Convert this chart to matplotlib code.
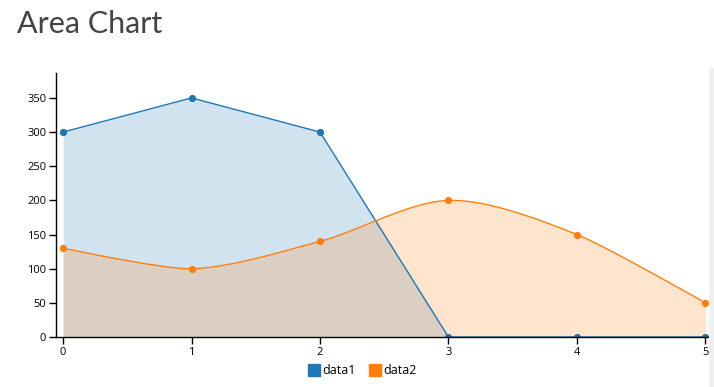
import numpy as np
import matplotlib
matplotlib.use("Agg")
import matplotlib.pyplot as plt
from matplotlib.patches import Rectangle
from matplotlib.lines import Line2D

x_vals = [0, 1, 2, 3, 4, 5]
data1 = [300, 350, 300, 0, 0, 0]
data2 = [130, 100, 140, 200, 150, 50]
series_names = ["data1", "data2"]
colors = ["#1f77b4", "#ff7f0e"]
y_ticks = [0, 50, 100, 150, 200, 250, 300, 350]


def cardinal_curve(xs, ys, tension=0.7, n=40):
    # d3 v3 cardinal interpolation (quad end segments, cubic interior)
    P = np.column_stack([xs, ys]).astype(float)
    a = (1 - tension) / 2
    T = [a * (P[i + 1] - P[i - 1]) for i in range(1, len(P) - 1)]
    t = np.linspace(0, 1, n)[:, None]
    segs = []
    c = P[1] - T[0] * 2 / 3
    segs.append((1 - t) ** 2 * P[0] + 2 * (1 - t) * t * c + t ** 2 * P[1])
    for i in range(1, len(P) - 2):
        p0, p3 = P[i], P[i + 1]
        c1 = p0 + T[i - 1]
        c2 = p3 - T[i]
        segs.append((1 - t) ** 3 * p0 + 3 * (1 - t) ** 2 * t * c1 + 3 * (1 - t) * t ** 2 * c2 + t ** 3 * p3)
    c = P[-2] + T[-1] * 2 / 3
    segs.append((1 - t) ** 2 * P[-2] + 2 * (1 - t) * t * c + t ** 2 * P[-1])
    pts = np.vstack(segs)
    return pts[:, 0], pts[:, 1]


W, H = 714, 387
fig = plt.figure(figsize=(W / 100, H / 100), dpi=100)
ax = fig.add_axes([56 / W, 1 - 337 / H, (708 - 56) / W, (337 - 73) / H])

tick_font = "Open Sans"

# data1 linear area
ax.fill_between(x_vals, data1, 0, color=colors[0], alpha=0.2, linewidth=0, zorder=1)
ax.plot(x_vals, data1, color=colors[0], linewidth=1, zorder=2)
# data2 spline area
sx, sy = cardinal_curve(x_vals, data2)
ax.fill_between(sx, sy, 0, color=colors[1], alpha=0.2, linewidth=0, zorder=1)
ax.plot(sx, sy, color=colors[1], linewidth=1, zorder=2)

ax.plot(x_vals, data1, "o", color=colors[0], markersize=4.2, zorder=2.2)
ax.plot(x_vals, data2, "o", color=colors[1], markersize=4.2, zorder=2.2)

ax.set_xlim(-0.055, 5.02)
ax.set_ylim(0, 386.5)
ax.set_xticks(x_vals)
ax.set_yticks(y_ticks)
ax.spines["top"].set_visible(False)
ax.spines["right"].set_visible(False)
for s in ("left", "bottom"):
    ax.spines[s].set_linewidth(1)
    ax.spines[s].set_color("#000000")
    ax.spines[s].set_zorder(3)
ax.tick_params(length=5, width=1, labelsize=8, colors="#000000", pad=2)
for lab in ax.get_xticklabels() + ax.get_yticklabels():
    lab.set_fontfamily(tick_font)

fig.text(17 / W, 1 - 33 / H, "Area Chart", fontsize=22, fontfamily="Lato",
         fontweight="normal", color="#444444", ha="left", va="baseline")

handles = [Line2D([], [], marker="s", linestyle="none", color=c, markersize=8) for c in colors]
leg = fig.legend(handles, series_names, loc="center", bbox_to_anchor=(362 / W, 1 - 371 / H),
                 ncol=2, frameon=False, prop={"family": tick_font, "size": 9},
                 handletextpad=0.2, columnspacing=1.0, handlelength=1.0)

fig.patches.append(Rectangle((709 / W, 0), 5 / W, 1 - 68 / H, transform=fig.transFigure,
                             facecolor="#f0f0f0", edgecolor="none"))

fig.savefig("out.png", dpi=100)
